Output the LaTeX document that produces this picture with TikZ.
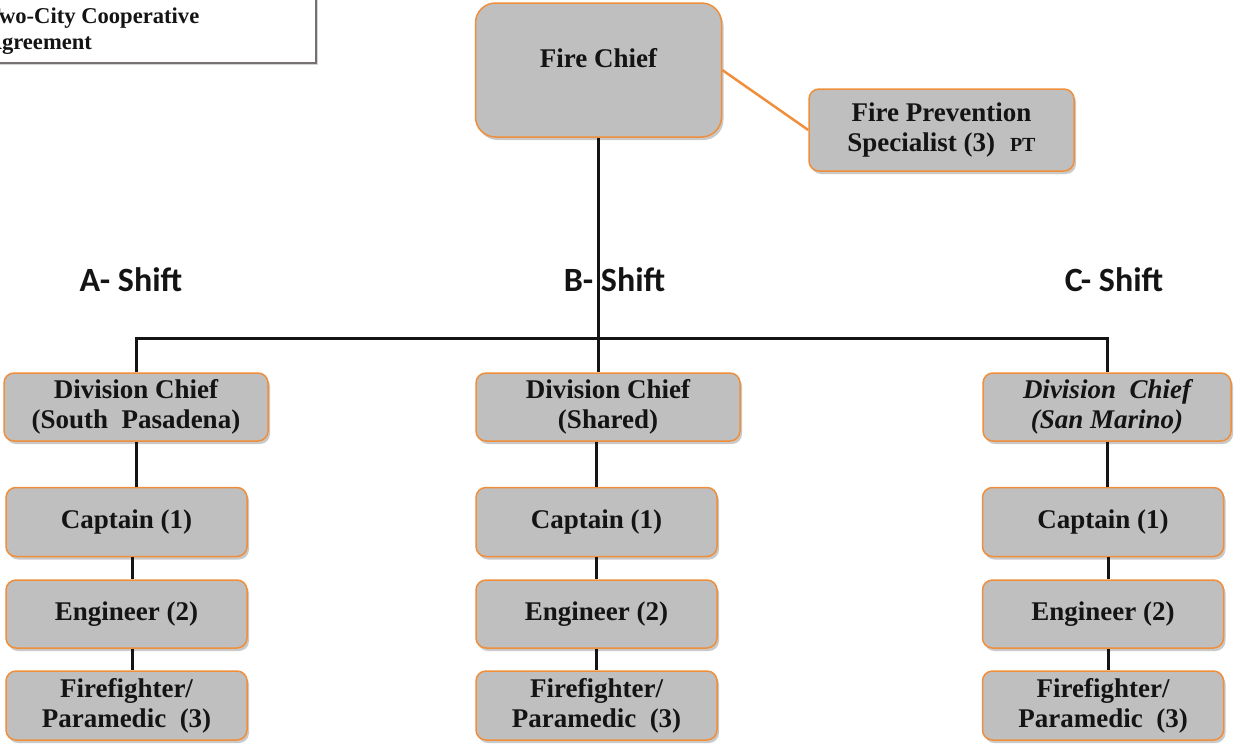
\documentclass[tikz,border=0pt]{standalone}
\usepackage{fontspec}
\setmainfont{Liberation Serif}
\newfontfamily\shiftfont{Carlito}
\usetikzlibrary{shadows}

\definecolor{boxfill}{HTML}{BFBFBF}
\definecolor{boxline}{HTML}{EF8E3B}
\definecolor{inkline}{HTML}{141414}
\definecolor{noteline}{HTML}{767171}

\begin{document}
\begin{tikzpicture}[x=1pt,y=-1pt,
  rolebox/.style={draw=boxline, line width=1.5pt, fill=boxfill, rounded corners=10pt,
    align=center, inner sep=0pt, text=inkline,
    font=\bfseries\fontsize{27}{30}\selectfont,
    drop shadow={shadow xshift=2pt, shadow yshift=-3pt, opacity=0.3, fill=black!70}},
  link/.style={draw=inkline, line width=3pt},
  shiftlabel/.style={font=\shiftfont\bfseries\fontsize{34}{40}\selectfont, anchor=base, text=inkline}
]
\useasboundingbox (0,0) rectangle (1235,745);

% agreement note, running off the top-left corner
\node[draw=noteline, line width=2pt, fill=white, minimum width=356pt, minimum height=83pt,
  inner sep=0pt, drop shadow={shadow xshift=1.5pt, shadow yshift=-2pt, opacity=0.35}]
  (agree) at (138,21.5) {};
\node[anchor=north west, align=left, inner sep=0pt, text=inkline,
  font=\bfseries\fontsize{22.6}{26}\selectfont] (agreetext) at (-14.5,8)
  {Two-City Cooperative\\Agreement};

% head of the department
\node[rolebox, rounded corners=20pt, minimum width=246pt, minimum height=134pt] (fc) at (598.5,70) {};
\node[anchor=base, text=inkline, font=\bfseries\fontsize{27}{30}\selectfont] (fctitle) at (598.5,67) {Fire Chief};

\node[rolebox, minimum width=265pt, minimum height=82pt] (fps) at (941.5,130)
  {Fire Prevention\\Specialist (3)\hspace{0.55em}{\fontsize{20}{22}\selectfont PT}};

% shift headings
\node[shiftlabel] (shiftA) at (131,291) {A- Shift};
\node[shiftlabel] (shiftB) at (614.5,291) {B- Shift};
\node[shiftlabel] (shiftC) at (1114,291) {C- Shift};

% division chiefs
\node[rolebox, minimum width=264pt, minimum height=68pt] (divA) at (136,407) {Division Chief\\(South\ \ Pasadena)};
\node[rolebox, minimum width=264pt, minimum height=68pt] (divB) at (608,407) {Division Chief\\(Shared)};
\node[rolebox, minimum width=248pt, minimum height=68pt] (divC) at (1107,407) {\itshape Division\ \ Chief\\\itshape (San\ Marino)};

% crews, one column per shift
\foreach \col/\cx in {A/126.5, B/596.5, C/1103}{
  \node[rolebox, minimum width=241pt, minimum height=69pt] (cap\col) at (\cx,522) {Captain (1)};
  \node[rolebox, minimum width=241pt, minimum height=68pt] (eng\col) at (\cx,614) {Engineer (2)};
  \node[rolebox, minimum width=241pt, minimum height=69pt] (ff\col) at (\cx,705.5) {Firefighter/\\Paramedic\ \ (3)};
}

% reporting lines
\coordinate (busL) at (137,338);
\coordinate (busR) at (1108,338);
\draw[draw=boxline, line width=2.5pt] (fc.east) -- (fps.west);
\draw[link] (fc.south) -- (fc.south |- busL);
\draw[link] (divA.north) -- (divA.north |- busL) -- (divC.north |- busR) -- (divC.north);
\draw[link] (fc.south |- busL) -- (fc.south |- divB.north);

\draw[link] (divA.south) -- (divA.south |- capA.north);
\draw[link] ([xshift=5.5pt]capA.south) -- ([xshift=5.5pt]engA.north);
\draw[link] ([xshift=5.5pt]engA.south) -- ([xshift=5.5pt]ffA.north);

\draw[link] (capB.north |- divB.south) -- (capB.north);
\draw[link] (capB.south) -- (engB.north);
\draw[link] (engB.south) -- (ffB.north);

\draw[link] (divC.south) -- (divC.south |- capC.north);
\draw[link] ([xshift=5pt]capC.south) -- ([xshift=5pt]engC.north);
\draw[link] ([xshift=5pt]engC.south) -- ([xshift=5pt]ffC.north);
\end{tikzpicture}
\end{document}
